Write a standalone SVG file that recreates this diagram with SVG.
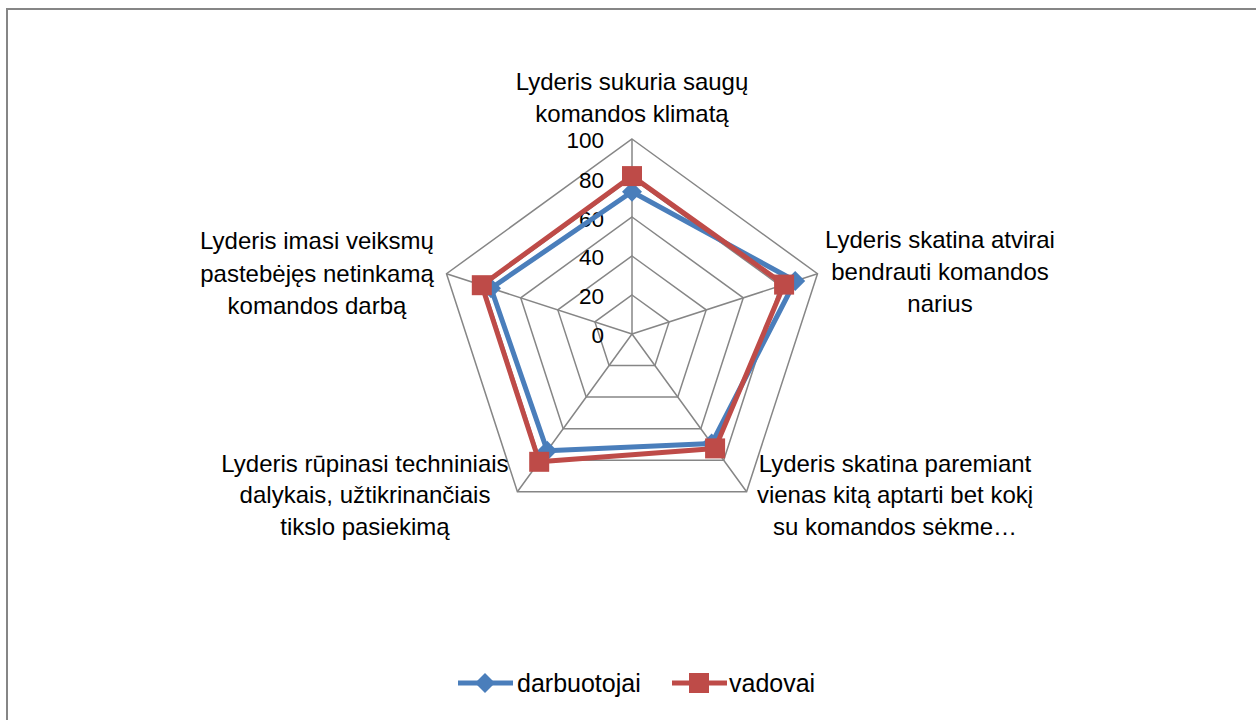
<svg xmlns="http://www.w3.org/2000/svg" xmlns:xlink="http://www.w3.org/1999/xlink" width="1256" height="720" viewBox="0 0 1256 720">
<style>
.grid{fill:none;stroke:#868686;stroke-width:1.5}
.lbl{font-family:"Liberation Sans",Arial,sans-serif;font-size:24px;fill:#000;text-anchor:middle}
.tick{font-family:"Liberation Sans",Arial,sans-serif;font-size:22.5px;fill:#000;text-anchor:end}
.leg{font-family:"Liberation Sans",Arial,sans-serif;font-size:25px;fill:#000}
.sblue{fill:none;stroke:#4A7EBB;stroke-width:5;stroke-linejoin:round}
.sred{fill:none;stroke:#BE4B48;stroke-width:5;stroke-linejoin:round}
</style>
<defs>
<path id="dia" d="M0,-10 L10,0 L0,10 L-10,0 Z" fill="#4A7EBB"/>
<rect id="sq" x="-10" y="-10" width="20" height="20" fill="#BE4B48"/>
</defs>
<rect x="0" y="0" width="1256" height="720" fill="#fff"/>
<rect x="7" y="9" width="1270" height="730" fill="none" stroke="#868686" stroke-width="2"/>
<g id="grid">
<polygon class="grid" points="632,295 669.1,321.9 654.9,365.6 609.1,365.6 594.9,321.9"/>
<polygon class="grid" points="632,256 706.2,309.9 677.8,397.1 586.2,397.1 557.8,309.9"/>
<polygon class="grid" points="632,217 743.3,297.8 700.8,428.7 563.2,428.7 520.7,297.8"/>
<polygon class="grid" points="632,178 780.4,285.8 723.7,460.2 540.3,460.2 483.6,285.8"/>
<polygon class="grid" points="632,139 817.5,273.7 746.6,491.8 517.4,491.8 446.5,273.7"/>
<path class="grid" d="M632,334 L632,139 M632,334 L817.5,273.7 M632,334 L746.6,491.8 M632,334 L517.4,491.8 M632,334 L446.5,273.7"/>
</g>
<g id="ticks">
<text class="tick" x="604" y="148">100</text>
<text class="tick" x="604" y="188">80</text>
<text class="tick" x="604" y="227">60</text>
<text class="tick" x="604" y="265">40</text>
<text class="tick" x="604" y="304">20</text>
<text class="tick" x="604" y="343">0</text>
</g>
<g id="connectors">
<polygon id="series-darbuotojai" class="sblue" points="632,191.7 795.2,281 711.6,443.6 547.2,450.7 491,288.2"/>
<use href="#dia" x="632" y="191.7"/>
<use href="#dia" x="795.2" y="281"/>
<use href="#dia" x="711.6" y="443.6"/>
<use href="#dia" x="547.2" y="450.7"/>
<use href="#dia" x="491" y="288.2"/>
<polygon id="series-vadovai" class="sred" points="632,176.1 784.1,284.6 715.1,448.4 539.2,461.8 481.8,285.2"/>
<use href="#sq" x="632" y="176.1"/>
<use href="#sq" x="784.1" y="284.6"/>
<use href="#sq" x="715.1" y="448.4"/>
<use href="#sq" x="539.2" y="461.8"/>
<use href="#sq" x="481.8" y="285.2"/>
</g>
<g id="axis-top">
<text class="lbl" x="632" y="90">Lyderis sukuria saugų</text>
<text class="lbl" x="632" y="122">komandos klimatą</text>
</g>
<g id="axis-upper-right">
<text class="lbl" x="940" y="248">Lyderis skatina atvirai</text>
<text class="lbl" x="940" y="280">bendrauti komandos</text>
<text class="lbl" x="940" y="312">narius</text>
</g>
<g id="axis-lower-right">
<text class="lbl" x="895" y="472">Lyderis skatina paremiant</text>
<text class="lbl" x="895" y="503">vienas kitą aptarti bet kokį</text>
<text class="lbl" x="895" y="535">su komandos sėkme…</text>
</g>
<g id="axis-lower-left">
<text class="lbl" x="365" y="472">Lyderis rūpinasi techniniais</text>
<text class="lbl" x="365" y="503">dalykais, užtikrinančiais</text>
<text class="lbl" x="365" y="535">tikslo pasiekimą</text>
</g>
<g id="axis-upper-left">
<text class="lbl" x="317" y="249">Lyderis imasi veiksmų</text>
<text class="lbl" x="317" y="282">pastebėjęs netinkamą</text>
<text class="lbl" x="317" y="314">komandos darbą</text>
</g>
<g id="legend">
<line x1="458" y1="683" x2="513" y2="683" stroke="#4A7EBB" stroke-width="5"/>
<use href="#dia" x="485" y="683"/>
<text class="leg" x="517" y="692">darbuotojai</text>
<line x1="672" y1="683" x2="727" y2="683" stroke="#BE4B48" stroke-width="5"/>
<use href="#sq" x="699" y="683"/>
<text class="leg" x="729" y="692">vadovai</text>
</g>
</svg>
